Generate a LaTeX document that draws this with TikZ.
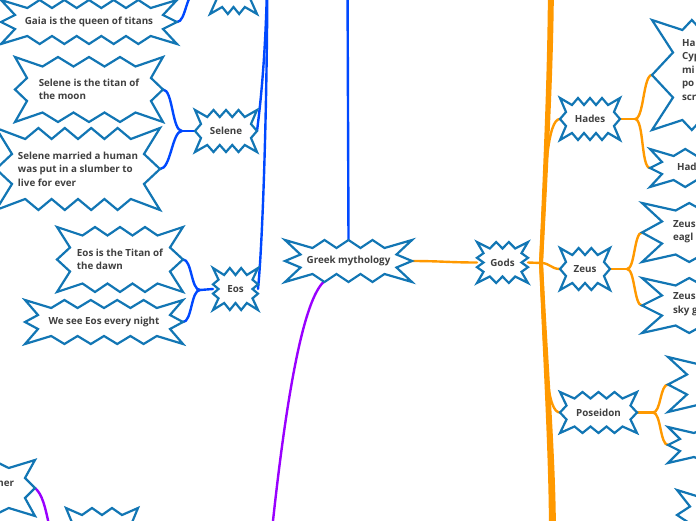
\documentclass[tikz,border=0pt]{standalone}
\usepackage{fontspec}
\setmainfont{Open Sans}
\usetikzlibrary{calc}
\pgfdeclarelayer{bg}
\pgfsetlayers{bg,main}
\definecolor{bline}{RGB}{18,118,180}
\definecolor{tblue}{RGB}{0,72,255}
\definecolor{gorange}{RGB}{255,153,0}
\definecolor{mpurple}{RGB}{153,0,255}
\definecolor{txt}{RGB}{64,64,64}
\tikzset{
 burstline/.style={draw=bline, line width=2.2pt, fill=white, line join=miter},
 bursttext/.style={inner sep=0pt, outer sep=0pt, font=\fontsize{9.8}{13.5}\selectfont\bfseries, text=txt, align=left},
 conn/.style={line width=2.4pt, line cap=round},
 blueconn/.style={conn, draw=tblue},
 orangeconn/.style={conn, draw=gorange},
 purpleconn/.style={conn, draw=mpurple},
}
% #1 name, #2 centre, #3 outer half width, #4 inner half width,
% #5 outer half height, #6 inner half height, #7 teeth top, #8 teeth side, #9 text
\newcommand\burst[9]{%
\begin{scope}[shift={#2}]
\draw[burstline] (-#3,-#5)
 \foreach \k in {1,...,#7}{ -- ({-#4+2*#4*(\k-0.5)/#7},-#6) -- ({ifthenelse(\k==#7,#3,-#4+2*#4*\k/#7)},-#5) }
 \foreach \k in {1,...,#8}{ -- (#4,{-#6+2*#6*(\k-0.5)/#8}) -- (#3,{ifthenelse(\k==#8,#5,-#6+2*#6*\k/#8)}) }
 \foreach \k in {1,...,#7}{ -- ({#4-2*#4*(\k-0.5)/#7},#6) -- ({ifthenelse(\k==#7,-#3,#4-2*#4*\k/#7)},#5) }
 \foreach \k in {1,...,#8}{ -- (-#4,{#6-2*#6*(\k-0.5)/#8}) -- (-#3,{ifthenelse(\k==#8,-#5,#6-2*#6*\k/#8)}) }
 -- cycle;
\node[bursttext, minimum width={2*#3}, minimum height={2*#5}] (#1) at (0,0) {#9};
\end{scope}}

\begin{document}
\begin{tikzpicture}[x=1pt,y=-1pt]
\useasboundingbox (0,0) rectangle (696,520);
\clip (0,0) rectangle (696,520);

% centre
\burst{greek}{(348.5,261)}{63.5}{48}{21}{13}{4}{2}{Greek mythology}
\burst{gods}{(502.5,262.5)}{25.5}{19}{20.5}{14}{3}{3}{Gods}
% gods
\burst{hades}{(590,119)}{30}{24}{21}{14}{4}{2}{Hades}
\burst{zeus}{(585,269)}{25}{19}{21}{14}{3}{2}{Zeus}
\burst{poseidon}{(598.5,412.5)}{38.5}{32}{20.5}{14}{4}{2}{Poseidon}
\burst{hades1}{(720,75)}{68}{47}{55}{45}{5}{2}{}
\burst{hades2}{(720,168)}{70}{58}{19}{12}{5}{2}{}
\burst{zeus1}{(730,232.5)}{88}{68}{29.5}{22}{5}{2}{}
\burst{zeus2}{(730,305.5)}{88}{68}{27.5}{20}{5}{2}{}
\burst{pos1}{(750,384.5)}{82}{63}{27.5}{20}{5}{2}{}
\burst{pos2}{(750,445)}{82}{70}{18}{12}{5}{2}{}
\burst{pos3}{(755,515)}{78}{65}{25}{17}{5}{2}{}
\node[bursttext, anchor=west] (h1t) at (682,70) {Ha\\Cyp\\mi\\po\\scr};
\node[bursttext, anchor=west] (h2t) at (677,167) {Had};
\node[bursttext, anchor=west] (z1t) at (673,231.5) {Zeus\\eagl};
\node[bursttext, anchor=west] (z2t) at (673,304) {Zeus\\sky g};
% titans
\burst{gaia}{(233.5,-8)}{23.5}{17}{22}{15}{3}{2}{}
\burst{gaiaq}{(89,22)}{88}{74}{22}{14}{6}{2}{Gaia is the queen of titans}
\burst{selene}{(226,131)}{31}{25}{21}{14}{4}{2}{Selene}
\burst{selene1}{(89,89.5)}{74}{62}{32.5}{23}{4}{2}{Selene is the titan of\\the moon}
\burst{selene2}{(78,169)}{82}{66}{41}{30}{5}{2}{Selene married a human\\was put in a slumber to\\live for ever}
\burst{eos}{(235.5,289)}{22.5}{17}{21}{14}{3}{3}{Eos}
\burst{eos1}{(120,259.5)}{63}{50}{32.5}{24}{4}{2}{Eos is the Titan of\\the dawn}
\burst{eos2}{(104,322)}{79}{66}{22}{14}{5}{2}{We see Eos every night}
% bottom left
\burst{herbox}{(-40,488)}{75}{65}{28}{20}{4}{2}{}
\burst{botbox}{(102,530)}{36}{30}{22}{15}{3}{2}{}
\node[bursttext, anchor=east] (hert) at (14,483) {her};

\begin{pgfonlayer}{bg}
\clip (0,0) rectangle (696,520);
% blue branch
\coordinate (T) at (267.5,-60);
\coordinate (titansroot) at (347.5,-20);
\coordinate (gb) at (196,-8);
\coordinate (sb) at (182,131);
\coordinate (eb) at (200,290);
\draw[blueconn] (greek.north) -- (titansroot);
\draw[blueconn] (T) .. controls (267.5,40) and (261,100) .. (selene.east);
\draw[blueconn] (T) .. controls (267.5,120) and (262,250) .. (eos.east);
\draw[blueconn] (T) .. controls (267,-20) and (266,-8) .. (gaia.east);
\draw[blueconn] (gaia.west) -- (gb);
\draw[blueconn] (gb) .. controls (186,-8) and (186,22) .. (gaiaq.east);
\draw[blueconn] (selene.west) -- (sb);
\draw[blueconn] (sb) .. controls (172,131) and (173,89.5) .. (selene1.east);
\draw[blueconn] (sb) .. controls (172,131) and (171,169) .. (selene2.east);
\draw[blueconn] (eos.west) -- (eb);
\draw[blueconn] (eb) .. controls (191,290) and (192,259.5) .. (eos1.east);
\draw[blueconn] (eb) .. controls (191,290) and (192,322) .. (eos2.east);
% orange branch
\coordinate (ob) at (541,263);
\coordinate (otop1) at (550,-30);
\coordinate (otop2) at (552,-30);
\coordinate (obot1) at (551,540);
\coordinate (obot2) at (554,540);
\coordinate (hb) at (635,119);
\coordinate (zb) at (627,269);
\coordinate (pb) at (653,412.5);
\draw[orangeconn] (greek.east) .. controls (440,261) and (450,262.5) .. (gods.west);
\draw[orangeconn] (gods.east) -- (ob);
\draw[orangeconn, line width=4pt] (ob) .. controls (546,150) and (550,60) .. (otop1);
\draw[orangeconn, line width=4pt] (ob) .. controls (547,150) and (552,60) .. (otop2);
\draw[orangeconn, line width=4pt] (ob) .. controls (546,380) and (551,460) .. (obot1);
\draw[orangeconn, line width=4pt] (ob) .. controls (547,380) and (554,460) .. (obot2);
\draw[orangeconn] (ob) .. controls (544,170) and (548,119) .. (hades.west);
\draw[orangeconn] (ob) .. controls (550,263) and (551,269) .. (zeus.west);
\draw[orangeconn] (ob) .. controls (544,370) and (548,412.5) .. (poseidon.west);
\draw[orangeconn] (hades.east) -- (hb);
\draw[orangeconn] (hb) .. controls (644,119) and (643,75) .. (hades1.west);
\draw[orangeconn] (hb) .. controls (644,119) and (641,168) .. (hades2.west);
\draw[orangeconn] (zeus.east) -- (zb);
\draw[orangeconn] (zb) .. controls (635,269) and (634,232.5) .. (zeus1.west);
\draw[orangeconn] (zb) .. controls (635,269) and (634,305.5) .. (zeus2.west);
\draw[orangeconn] (poseidon.east) -- (pb);
\draw[orangeconn] (pb) .. controls (661,412.5) and (660,384.5) .. (pos1.west);
\draw[orangeconn] (pb) .. controls (661,412.5) and (660,445) .. (pos2.west);
% purple branch
\coordinate (pend) at (272,530);
\coordinate (hp) at (50,530);
\draw[purpleconn] ([xshift=-25pt]greek.south) .. controls (305,300) and (288,380) .. (pend);
\draw[purpleconn] (herbox.east) .. controls (42,494) and (45,505) .. (hp);
\end{pgfonlayer}
\end{tikzpicture}
\end{document}
